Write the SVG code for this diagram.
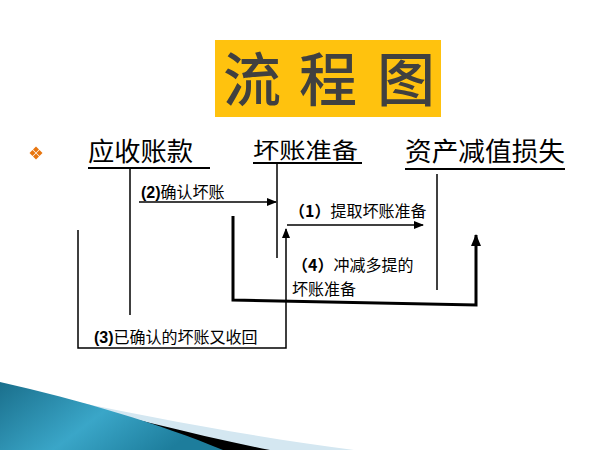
<svg xmlns="http://www.w3.org/2000/svg" width="600" height="450" viewBox="0 0 600 450">
<defs>
<style>
.hd{font-family:"Noto Sans CJK SC","Liberation Serif",serif;fill:#000;}
.lb{font-family:"Noto Sans CJK SC","Liberation Sans",sans-serif;font-size:16px;fill:#000;}
.num{font-family:"Liberation Sans","Noto Sans CJK SC",sans-serif;font-weight:bold;}
.thin{fill:none;stroke:#000;stroke-width:1.5;}
.bold{fill:none;stroke:#000;stroke-width:3;}
.ul{stroke:#000;stroke-width:2;}
</style>
<marker id="ah" markerUnits="userSpaceOnUse" markerWidth="10" markerHeight="8" refX="9" refY="4" orient="auto">
<path d="M0,0 L10,4 L0,8 Z" fill="#000"/>
</marker>
<marker id="ahb" markerUnits="userSpaceOnUse" markerWidth="12" markerHeight="10" refX="11" refY="5" orient="auto">
<path d="M0,0 L12,5 L0,10 Z" fill="#000"/>
</marker>
<linearGradient id="teal" x1="0" y1="0" x2="1" y2="0.4">
<stop offset="0" stop-color="#1a6f8c"/>
<stop offset="0.55" stop-color="#3aa6c8"/>
<stop offset="1" stop-color="#1d7d9c"/>
</linearGradient>
</defs>
<rect width="600" height="450" fill="#fff"/>

<g id="title">
<rect x="215" y="40" width="226" height="77" fill="#FFC20E"/>
<text class="hd" font-size="58" font-weight="500" style="fill:#404040" y="101" text-anchor="middle"><tspan x="252">流</tspan><tspan x="328">程</tspan><tspan x="406">图</tspan></text>
</g>

<g id="bullet" fill="#E8760F">
<path d="M36,146.5 L39,149.5 L36,152.5 L33,149.5 Z"/>
<path d="M36,153.5 L39,156.5 L36,159.5 L33,156.5 Z"/>
<path d="M32.5,150 L35.5,153 L32.5,156 L29.5,153 Z"/>
<path d="M39.5,150 L42.5,153 L39.5,156 L36.5,153 Z"/>
</g>

<g id="node-receivable">
<text class="hd" x="88" y="161" font-size="26" textLength="105" lengthAdjust="spacingAndGlyphs">应收账款</text>
<line class="ul" x1="88" y1="168" x2="210" y2="168"/>
</g>
<g id="node-allowance">
<text class="hd" x="253" y="158" font-size="22" textLength="105" lengthAdjust="spacingAndGlyphs">坏账准备</text>
<line class="ul" x1="253" y1="163" x2="362" y2="163"/>
</g>
<g id="node-impairment">
<text class="hd" x="405" y="161" font-size="26" textLength="160" lengthAdjust="spacingAndGlyphs">资产减值损失</text>
<line class="ul" x1="405" y1="169" x2="565" y2="169"/>
</g>

<g id="connectors">
<line class="thin" x1="130" y1="168" x2="130" y2="315"/>
<line class="thin" x1="277" y1="163" x2="277" y2="258"/>
<line class="thin" x1="437" y1="174" x2="437" y2="290"/>
<line class="thin" x1="139" y1="202" x2="276" y2="202" marker-end="url(#ah)"/>
<line class="thin" x1="287" y1="225" x2="423" y2="225" marker-end="url(#ah)"/>
<polyline class="thin" points="78,230 78,348 286,348 286,229" marker-end="url(#ah)"/>
<polyline class="bold" points="233,216 233,300 476,305 476,235" marker-end="url(#ahb)"/>
</g>

<g id="labels">
<text class="lb" x="141" y="198"><tspan class="num">(2)</tspan>确认坏账</text>
<text class="lb" x="289" y="217"><tspan font-weight="bold">（1）</tspan>提取坏账准备</text>
<text class="lb" x="292" y="270.5"><tspan font-weight="bold">（4）</tspan>冲减多提的</text>
<text class="lb" x="292" y="294.5">坏账准备</text>
<text class="lb" x="94" y="343"><tspan class="num">(3)</tspan>已确认的坏账又收回</text>
</g>

<g id="decoration">
<path d="M40,394 C150,418 260,438 354,450 L0,450 Z" fill="#d4e7f1"/>
<path d="M36,393 C120,416 200,436 270,450 L0,450 Z" fill="#000"/>
<path d="M0,382 C80,400 160,424 223,450 L0,450 Z" fill="url(#teal)"/>
</g>
</svg>
